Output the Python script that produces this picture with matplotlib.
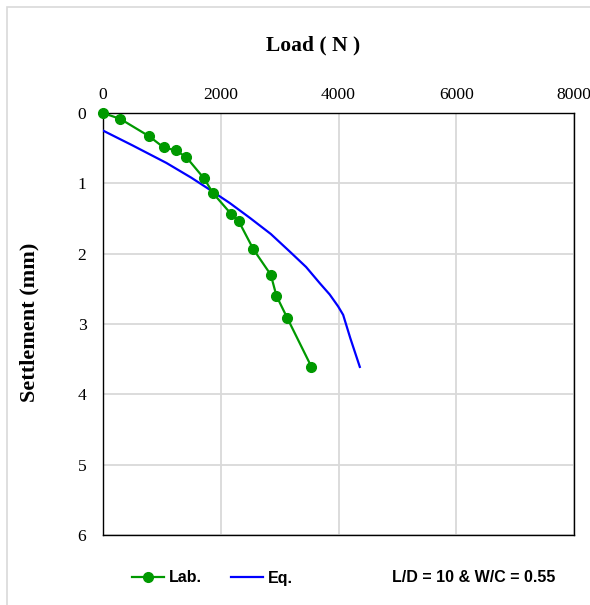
import matplotlib
matplotlib.use("Agg")
import matplotlib.pyplot as plt
from matplotlib.lines import Line2D
from matplotlib.patches import Rectangle

# Lab. test points (load N, settlement mm)
lab_load = [0, 296, 782, 1031, 1235, 1417, 1716, 1869, 2170, 2306, 2556, 2850, 2946, 3133, 3541]
lab_settle = [0, 0.085, 0.33, 0.49, 0.53, 0.63, 0.93, 1.14, 1.43, 1.54, 1.94, 2.30, 2.60, 2.92, 3.61]

# Eq. curve
eq_load = [0, 500, 1077, 1500, 1813, 2153, 2493, 2850, 3172, 3450, 3682, 3850, 3994, 4079, 4200, 4362]
eq_settle = [0.25, 0.46, 0.71, 0.92, 1.09, 1.28, 1.49, 1.72, 1.97, 2.19, 2.42, 2.58, 2.75, 2.87, 3.20, 3.61]

x_ticks = [0, 2000, 4000, 6000, 8000]
y_ticks = [0, 1, 2, 3, 4, 5, 6]

fig = plt.figure(figsize=(5.9, 6.05), dpi=100)
ax = fig.add_axes([103/590, 1 - 535/605, 471/590, 422/605])

ax.plot(eq_load, eq_settle, color="#0000ff", lw=1.6, zorder=3)
ax.plot(lab_load, lab_settle, color="#009900", lw=1.6, marker="o", ms=7, zorder=4, clip_on=False)

ax.set_xlim(0, 8000)
ax.set_ylim(6, 0)
ax.set_xticks(x_ticks)
ax.set_yticks(y_ticks)
ax.xaxis.tick_top()
ax.tick_params(length=0, labelsize=12.6, pad=7)
ax.tick_params(axis="y", pad=12)
for lab in ax.get_xticklabels() + ax.get_yticklabels():
	lab.set_family("Liberation Serif")
ax.grid(True, color="#d9d9d9", lw=1.3)
ax.set_axisbelow(True)
for s in ax.spines.values():
	s.set_color("black")
	s.set_linewidth(1.0)

fig.text(313/590, 1 - 45/605, "Load ( N )", ha="center", va="center",
		family="Liberation Serif", weight="bold", fontsize=15.5)
fig.text(29/590, 1 - 322/605, "Settlement (mm)", ha="center", va="center", rotation=90,
		family="Liberation Serif", weight="bold", fontsize=16)

# outer chart border (runs off the right and bottom edges)
fig.patches.append(Rectangle((7/590, -0.1), 1, 1.1 - 7/605, transform=fig.transFigure,
		fill=False, edgecolor="#d9d9d9", lw=1.2))

handles = [Line2D([], [], color="#009900", lw=1.6, marker="o", ms=7),
		Line2D([], [], color="#0000ff", lw=1.6)]
fig.legend(handles, ["Lab.", "Eq."], loc="center left", bbox_to_anchor=(118/590, 1 - 578/605),
		ncol=2, frameon=False, handlelength=2.0, handletextpad=0.3, columnspacing=1.8,
		prop={"family": "Liberation Sans", "weight": "bold", "size": 11.5})
fig.text(392/590, 1 - 578/605, "L/D = 10 & W/C = 0.55", ha="left", va="center",
		family="Liberation Sans", weight="bold", fontsize=11.5)

plt.savefig("out.png", dpi=100)
plt.close()
